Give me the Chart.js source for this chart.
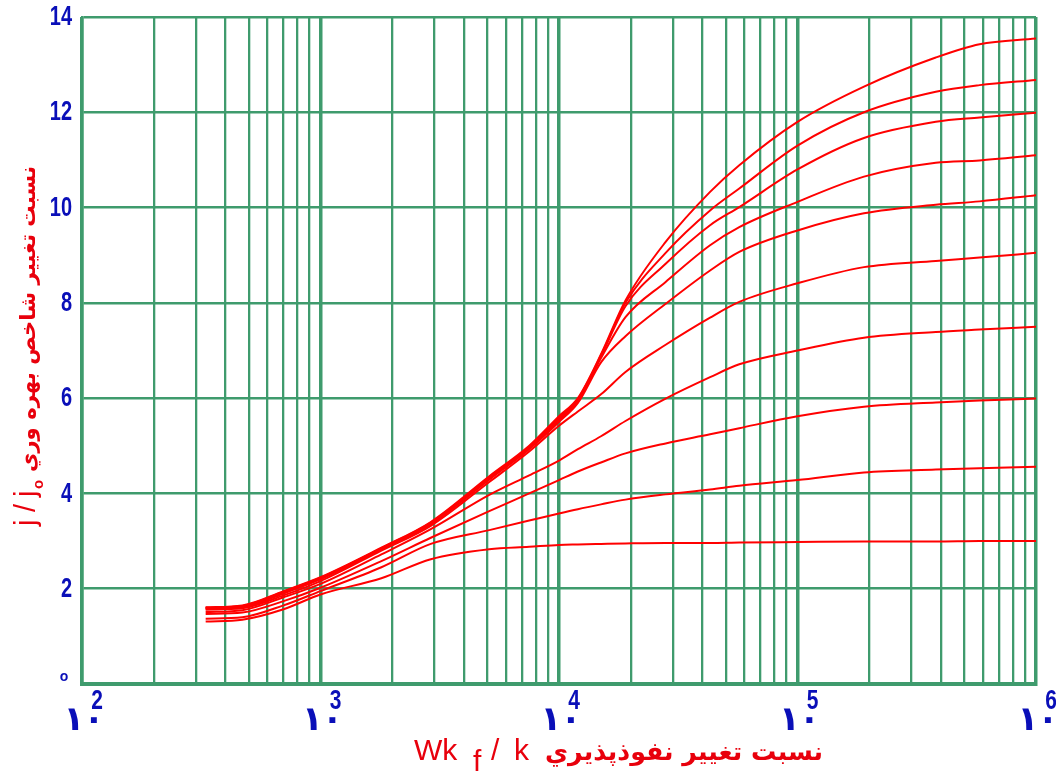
<!DOCTYPE html>
<html>
<head>
<meta charset="utf-8">
<script src="https://cdn.jsdelivr.net/npm/chart.js@4/dist/chart.umd.min.js"></script>
<style>
  html, body { margin: 0; padding: 0; background: #ffffff; }
  #wrap { width: 1056px; height: 775px; }
</style>
</head>
<body>
<div id="wrap"><canvas id="chart" width="1056" height="775"></canvas></div>
<script>
// Permeability ratio Wkf/k (log axis) at which each curve is sampled
const wkfRatio = [330, 470, 700, 1000, 1800, 2900, 5100, 7500, 10000, 12000, 15000, 19000, 28000, 43000, 57000, 100000, 190000, 380000, 580000, 1000000];

// Productivity index ratio j/jo, one array per curve (top to bottom)
const series1  = [1.61, 1.65, 1.95, 2.24, 2.86, 3.40, 4.36, 5.00, 5.62, 6.00, 6.92, 8.05, 9.28, 10.33, 10.89, 11.80, 12.54, 13.15, 13.43, 13.55];
const series2  = [1.60, 1.64, 1.94, 2.23, 2.85, 3.39, 4.34, 4.98, 5.59, 5.98, 6.90, 8.00, 9.05, 9.94, 10.40, 11.30, 12.00, 12.43, 12.57, 12.68];
const series3  = [1.60, 1.63, 1.93, 2.22, 2.84, 3.38, 4.33, 4.96, 5.56, 5.96, 6.88, 7.93, 8.82, 9.63, 10.01, 10.80, 11.46, 11.80, 11.89, 11.99];
const series4  = [1.59, 1.62, 1.92, 2.21, 2.83, 3.37, 4.31, 4.95, 5.53, 5.94, 6.84, 7.70, 8.44, 9.21, 9.59, 10.12, 10.65, 10.94, 10.99, 11.10];
const series5  = [1.58, 1.61, 1.90, 2.20, 2.82, 3.35, 4.29, 4.93, 5.50, 5.90, 6.75, 7.30, 7.98, 8.68, 9.07, 9.52, 9.88, 10.06, 10.13, 10.26];
const series6  = [1.56, 1.59, 1.86, 2.16, 2.80, 3.32, 4.24, 4.88, 5.42, 5.72, 6.08, 6.55, 7.12, 7.69, 8.02, 8.41, 8.75, 8.88, 8.95, 9.05];
const series7  = [1.51, 1.55, 1.82, 2.10, 2.72, 3.25, 3.97, 4.38, 4.69, 4.93, 5.20, 5.52, 5.99, 6.44, 6.71, 7.00, 7.27, 7.39, 7.44, 7.50];
const series8  = [1.47, 1.50, 1.74, 2.02, 2.58, 3.07, 3.63, 4.00, 4.28, 4.46, 4.65, 4.84, 5.05, 5.24, 5.37, 5.62, 5.82, 5.91, 5.95, 5.99];
const series9  = [1.37, 1.40, 1.65, 1.95, 2.45, 2.94, 3.23, 3.43, 3.58, 3.67, 3.77, 3.87, 3.98, 4.08, 4.16, 4.28, 4.44, 4.50, 4.53, 4.56];
const series10 = [1.31, 1.35, 1.57, 1.88, 2.22, 2.62, 2.83, 2.88, 2.92, 2.93, 2.94, 2.95, 2.96, 2.96, 2.97, 2.98, 2.99, 2.99, 3.00, 3.00];

// Axis labelling
const xTickPowers = [2, 3, 4, 5, 6];            // 10^2 ... 10^6
const yTickValues = [2, 4, 6, 8, 10, 12, 14];
const yZeroLabel = 'o';
const xTitleLatin = ['Wk', 'f', '/', 'k'];
const xTitlePersian = 'نسبت تغيير نفوذپذيري';
const yTitleLatin = ['j', '/', 'j', 'o'];
const yTitlePersian = 'نسبت تغيير شاخص بهره وري';

const GRID = '#3f9b6d';
const CURVE = '#ff0000';
const BLUE = '#0a0fb8';
const TITLE_RED = '#e8000c';

const allSeries = [series1, series2, series3, series4, series5, series6, series7, series8, series9, series10];

// Vertical grid at 1..9 x 10^k
const xGridValues = [];
for (let k = 2; k <= 5; k++) for (let m = 1; m <= 9; m++) xGridValues.push(m * Math.pow(10, k));
xGridValues.push(1e6);
const isDecade = v => Math.abs(Math.log10(v) - Math.round(Math.log10(v))) < 1e-9;

const datasets = allSeries.map((s, i) => ({
  label: 'j/jo ' + (i + 1),
  data: wkfRatio.map((x, j) => ({ x: x, y: s[j] })),
  borderColor: CURVE,
  borderWidth: 2,
  pointRadius: 0,
  fill: false,
  cubicInterpolationMode: 'monotone'
}));

function drawStretched(ctx, text, x, y, font, sy, align) {
  ctx.save();
  ctx.translate(x, y);
  ctx.scale(1, sy);
  ctx.font = font;
  ctx.textAlign = align;
  ctx.textBaseline = 'middle';
  ctx.fillText(text, 0, 0);
  ctx.restore();
}

function fitFont(ctx, text, width, weight, family, start) {
  let size = start;
  ctx.font = weight + ' ' + size + 'px ' + family;
  const w = ctx.measureText(text).width;
  size = size * width / w;
  return weight + ' ' + size.toFixed(2) + 'px ' + family;
}

const axisText = {
  id: 'axisText',
  afterDraw(chart) {
    const ctx = chart.ctx;
    const xs = chart.scales.x, ys = chart.scales.y;
    ctx.save();

    // y tick labels
    ctx.fillStyle = BLUE;
    yTickValues.forEach(v => {
      drawStretched(ctx, String(v), 72, ys.getPixelForValue(v) + 0.5,
        'bold 20px "Liberation Sans", Arial, sans-serif', 1.38, 'right');
    });
    drawStretched(ctx, yZeroLabel, 64, ys.getPixelForValue(0) - 7,
      'bold 14px "Liberation Sans", Arial, sans-serif', 1.0, 'center');

    // x tick labels: ١٠ with superscript power
    xTickPowers.forEach(k => {
      const px = xs.getPixelForValue(Math.pow(10, k));
      ctx.font = 'bold 34px "DejaVu Sans", sans-serif';
      ctx.textAlign = 'center';
      ctx.textBaseline = 'alphabetic';
      ctx.fillText('١', px - 8, 730);
      ctx.fillText('٠', px + 12, 730);
      drawStretched(ctx, String(k), px + 15, 701,
        'bold 21px "Liberation Sans", Arial, sans-serif', 1.3, 'center');
    });

    // x axis title
    ctx.fillStyle = TITLE_RED;
    ctx.textAlign = 'left';
    ctx.textBaseline = 'alphabetic';
    ctx.font = '30px "Liberation Sans", Arial, sans-serif';
    ctx.fillText(xTitleLatin[0], 414, 760);
    ctx.fillText(xTitleLatin[1], 473, 771);
    ctx.fillText(xTitleLatin[2], 491, 760);
    ctx.fillText(xTitleLatin[3], 514, 760);
    ctx.font = fitFont(ctx, xTitlePersian, 278, 'bold', '"DejaVu Sans", sans-serif', 26);
    ctx.fillText(xTitlePersian, 545, 760);

    // y axis title, rotated to read bottom to top
    ctx.save();
    ctx.translate(35, 526);
    ctx.rotate(-Math.PI / 2);
    ctx.font = '29px "Liberation Sans", Arial, sans-serif';
    ctx.fillText(yTitleLatin[0], 0, 0);
    ctx.fillText(yTitleLatin[1], 14, 0);
    ctx.fillText(yTitleLatin[2], 29, 0);
    ctx.font = 'bold 15px "Liberation Sans", Arial, sans-serif';
    ctx.fillText(yTitleLatin[3], 37, 8);
    ctx.font = fitFont(ctx, yTitlePersian, 306, 'bold', '"DejaVu Sans", sans-serif', 26);
    ctx.fillText(yTitlePersian, 54, 0);
    ctx.restore();

    ctx.restore();
  }
};

new Chart(document.getElementById('chart'), {
  type: 'line',
  data: { datasets: datasets },
  options: {
    responsive: false,
    animation: false,
    events: [],
    layout: { padding: { left: 0, right: 20, top: 17, bottom: 0 } },
    plugins: { legend: { display: false }, tooltip: { enabled: false } },
    scales: {
      x: {
        type: 'logarithmic',
        min: 100,
        max: 1e6,
        afterBuildTicks: s => { s.ticks = xGridValues.map(v => ({ value: v, major: isDecade(v) })); },
        ticks: { display: false },
        grid: {
          color: GRID,
          lineWidth: c => (c.tick && isDecade(c.tick.value) ? 3.5 : 2.3),
          drawTicks: false
        },
        border: { display: true, color: GRID, width: 4 },
        afterFit: s => { s.height = 91; }
      },
      y: {
        min: 0,
        max: 14,
        ticks: { display: false, stepSize: 2 },
        grid: { color: GRID, lineWidth: 2.5, drawTicks: false },
        border: { display: true, color: GRID, width: 2.5 },
        afterFit: s => { s.width = 82; }
      }
    }
  },
  plugins: [axisText]
});
</script>
</body>
</html>
